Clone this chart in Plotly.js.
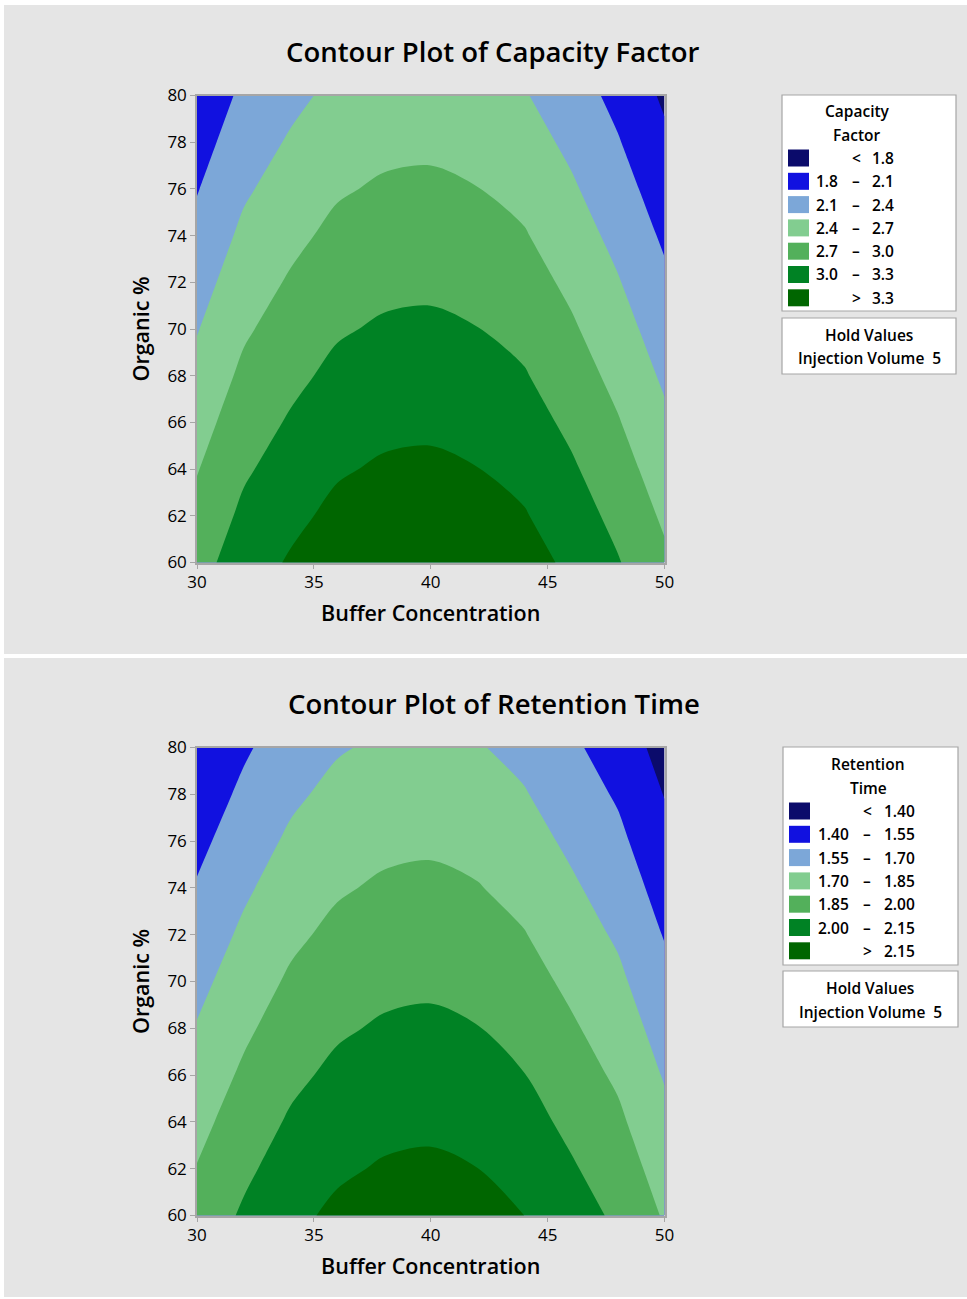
<!DOCTYPE html>
<html>
<head>
<meta charset="utf-8">
<script src="https://cdn.plot.ly/plotly-3.0.1.min.js"></script>
<style>
  html, body { margin: 0; padding: 0; background: #ffffff; }
  #chart { width: 967px; height: 1299px; }
</style>
</head>
<body>
<div id="chart"></div>
<script>
// ---------------- DATA ----------------
const bufferConcentration = [30, 32, 34, 36, 38, 40, 42, 44, 46, 48, 50];
const organicPercent = [60, 62, 64, 66, 68, 70, 72, 74, 76, 78, 80];

// rows = Organic % (60 -> 80), columns = Buffer Concentration (30 -> 50)
const capacityFactor = [
  [2.885, 3.160, 3.330, 3.470, 3.535, 3.550, 3.505, 3.420, 3.240, 3.020, 2.755],
  [2.785, 3.060, 3.230, 3.370, 3.435, 3.450, 3.405, 3.320, 3.140, 2.920, 2.655],
  [2.685, 2.960, 3.130, 3.270, 3.335, 3.350, 3.305, 3.220, 3.040, 2.820, 2.555],
  [2.585, 2.860, 3.030, 3.170, 3.235, 3.250, 3.205, 3.120, 2.940, 2.720, 2.455],
  [2.485, 2.760, 2.930, 3.070, 3.135, 3.150, 3.105, 3.020, 2.840, 2.620, 2.355],
  [2.385, 2.660, 2.830, 2.970, 3.035, 3.050, 3.005, 2.920, 2.740, 2.520, 2.255],
  [2.285, 2.560, 2.730, 2.870, 2.935, 2.950, 2.905, 2.820, 2.640, 2.420, 2.155],
  [2.185, 2.460, 2.630, 2.770, 2.835, 2.850, 2.805, 2.720, 2.540, 2.320, 2.055],
  [2.085, 2.360, 2.530, 2.670, 2.735, 2.750, 2.705, 2.620, 2.440, 2.220, 1.955],
  [1.985, 2.260, 2.430, 2.570, 2.635, 2.650, 2.605, 2.520, 2.340, 2.120, 1.855],
  [1.885, 2.160, 2.330, 2.470, 2.535, 2.550, 2.505, 2.420, 2.240, 2.020, 1.755]
];

const retentionTime = [
  [1.905, 2.020, 2.115, 2.178, 2.212, 2.222, 2.200, 2.150, 2.065, 1.975, 1.836],
  [1.856, 1.971, 2.066, 2.129, 2.163, 2.173, 2.151, 2.101, 2.016, 1.926, 1.787],
  [1.807, 1.922, 2.017, 2.080, 2.114, 2.124, 2.102, 2.052, 1.967, 1.877, 1.738],
  [1.758, 1.873, 1.968, 2.031, 2.065, 2.075, 2.053, 2.003, 1.918, 1.828, 1.689],
  [1.709, 1.824, 1.919, 1.982, 2.016, 2.026, 2.004, 1.954, 1.869, 1.779, 1.640],
  [1.660, 1.775, 1.870, 1.933, 1.967, 1.977, 1.955, 1.905, 1.820, 1.730, 1.591],
  [1.611, 1.726, 1.821, 1.884, 1.918, 1.928, 1.906, 1.856, 1.771, 1.681, 1.542],
  [1.562, 1.677, 1.772, 1.835, 1.869, 1.879, 1.857, 1.807, 1.722, 1.632, 1.493],
  [1.513, 1.628, 1.723, 1.786, 1.820, 1.830, 1.808, 1.758, 1.673, 1.583, 1.444],
  [1.464, 1.579, 1.674, 1.737, 1.771, 1.781, 1.759, 1.709, 1.624, 1.534, 1.395],
  [1.415, 1.530, 1.625, 1.688, 1.722, 1.732, 1.710, 1.660, 1.575, 1.485, 1.346]
];

const cfLevels = [1.8, 2.1, 2.4, 2.7, 3.0, 3.3];
const cfLevelLabels = ['1.8', '2.1', '2.4', '2.7', '3.0', '3.3'];
const rtLevels = [1.40, 1.55, 1.70, 1.85, 2.00, 2.15];
const rtLevelLabels = ['1.40', '1.55', '1.70', '1.85', '2.00', '2.15'];

const xTickVals = [30, 35, 40, 45, 50];
const yTickVals = [60, 62, 64, 66, 68, 70, 72, 74, 76, 78, 80];

const chartTitles = ['Contour Plot of Capacity Factor', 'Contour Plot of Retention Time'];
const legendTitles = [['Capacity', 'Factor'], ['Retention', 'Time']];
const xTitle = 'Buffer Concentration';
const yTitle = 'Organic %';
const holdLines = ['Hold Values', 'Injection Volume&#160;&#160;5'];

// ---------------- STYLE ----------------
const bandColors = ['#0b0b6b', '#1111e0', '#7ca7d8', '#82cd90', '#53b05b', '#008224', '#006600'];
const W = 967, H = 1299;
const FONT = 'Open Sans, Noto Sans, DejaVu Sans, sans-serif';
const px = v => v / W;
const py = v => 1 - v / H;

function stepScale(colors) {
  const n = colors.length, out = [];
  colors.forEach((c, i) => {
    const a = Math.max(0, (i - 0.5) / (n - 1));
    const b = Math.min(1, (i + 0.5) / (n - 1));
    out.push([a, c]); out.push([b, c]);
  });
  return out;
}

function contourTrace(z, levels, xa, ya) {
  const size = Math.round((levels[1] - levels[0]) * 1000) / 1000;
  const start = levels[0], end = levels[levels.length - 1];
  return {
    type: 'contour',
    x: bufferConcentration, y: organicPercent, z: z,
    xaxis: xa, yaxis: ya,
    autocontour: false,
    contours: { start: start, end: end, size: size, coloring: 'fill', showlines: false },
    zmin: start - size / 2, zmax: end + size / 2,
    colorscale: stepScale(bandColors),
    showscale: false,
    line: { width: 0, smoothing: 0.9 },
    hoverinfo: 'x+y+z'
  };
}

const data = [
  contourTrace(capacityFactor, cfLevels, 'x', 'y'),
  contourTrace(retentionTime, rtLevels, 'x2', 'y2')
];

const tickFont = { family: FONT, size: 17, color: '#000', weight: 500 };
const axTitleFont = { family: FONT, size: 21.5, color: '#000', weight: 600 };

function xAxis(domain, anchor) {
  return {
    domain: domain, anchor: anchor, range: [30, 50],
    tickvals: xTickVals, ticktext: xTickVals.map(String),
    ticks: 'outside', ticklen: 5, tickwidth: 1.2, tickcolor: '#a6a6a6',
    ticklabelstandoff: -2,
    showline: true, linecolor: '#a6a6a6', linewidth: 1.5, mirror: true,
    showgrid: false, zeroline: false,
    tickfont: tickFont,
    title: { text: xTitle, font: axTitleFont, standoff: 14 }
  };
}
function yAxis(domain, anchor) {
  return {
    domain: domain, anchor: anchor, range: [60, 80],
    tickvals: yTickVals, ticktext: yTickVals.map(String),
    ticks: 'outside', ticklen: 5, tickwidth: 1.2, tickcolor: '#a6a6a6',
    showline: true, linecolor: '#a6a6a6', linewidth: 1.5, mirror: true,
    showgrid: false, zeroline: false,
    tickfont: tickFont,
    title: { text: yTitle, font: axTitleFont, standoff: 12 }
  };
}

const shapes = [];
const annotations = [];

// panel backgrounds
[[5, 654], [658, 1297]].forEach(([t, b]) => {
  shapes.push({ type: 'rect', xref: 'paper', yref: 'paper', layer: 'below',
    x0: px(4), x1: px(967), y0: py(b), y1: py(t),
    fillcolor: '#e5e5e5', line: { width: 0 } });
});

function addPanelText(i, titleY, cfg) {
  annotations.push({ xref: 'paper', yref: 'paper', x: px(cfg.titleX), y: py(titleY),
    xanchor: 'center', yanchor: 'middle', showarrow: false, text: chartTitles[i],
    font: { family: FONT, size: 27.5, color: '#000', weight: 600 } });
}

function addLegend(i, levelsLabels, cfg) {
  shapes.push({ type: 'rect', xref: 'paper', yref: 'paper', layer: 'above',
    x0: px(cfg.boxL), x1: px(cfg.boxR), y0: py(cfg.boxB), y1: py(cfg.boxT),
    fillcolor: '#ffffff', line: { color: '#a6a6a6', width: 1.2 } });
  shapes.push({ type: 'rect', xref: 'paper', yref: 'paper', layer: 'above',
    x0: px(cfg.boxL), x1: px(cfg.boxR), y0: py(cfg.holdB), y1: py(cfg.holdT),
    fillcolor: '#ffffff', line: { color: '#a6a6a6', width: 1.2 } });
  const lf = { family: FONT, size: 15.5, color: '#000', weight: 600 };
  legendTitles[i].forEach((t, k) => {
    annotations.push({ xref: 'paper', yref: 'paper', x: px(cfg.titleCx), y: py(cfg.titleY0 + k * 24),
      xanchor: 'center', yanchor: 'middle', showarrow: false, text: t, font: lf });
  });
  const n = levelsLabels.length;
  for (let r = 0; r <= n; r++) {
    const yc = cfg.row0 + r * 23.3;
    shapes.push({ type: 'rect', xref: 'paper', yref: 'paper', layer: 'above',
      x0: px(cfg.swL), x1: px(cfg.swL + 21), y0: py(yc + 8.5), y1: py(yc - 8.5),
      fillcolor: bandColors[r], line: { width: 0 } });
    let left = '', sym = '', right = '';
    if (r === 0) { sym = '&lt;'; right = levelsLabels[0]; }
    else if (r === n) { sym = '&gt;'; right = levelsLabels[n - 1]; }
    else { left = levelsLabels[r - 1]; sym = '–'; right = levelsLabels[r]; }
    if (left) annotations.push({ xref: 'paper', yref: 'paper', x: px(cfg.leftR), y: py(yc),
      xanchor: 'right', yanchor: 'middle', showarrow: false, text: left, font: lf });
    annotations.push({ xref: 'paper', yref: 'paper', x: px(cfg.symC), y: py(yc),
      xanchor: 'center', yanchor: 'middle', showarrow: false, text: sym, font: lf });
    annotations.push({ xref: 'paper', yref: 'paper', x: px(cfg.rightR), y: py(yc),
      xanchor: 'right', yanchor: 'middle', showarrow: false, text: right, font: lf });
  }
  holdLines.forEach((t, k) => {
    annotations.push({ xref: 'paper', yref: 'paper', x: px(cfg.holdCx), y: py(cfg.holdY0 + k * 23.5),
      xanchor: 'center', yanchor: 'middle', showarrow: false, text: t, font: lf });
  });
}

addPanelText(0, 51, { titleX: 493 });
addPanelText(1, 703, { titleX: 494 });

addLegend(0, cfLevelLabels, {
  boxL: 782, boxR: 956, boxT: 95, boxB: 311, holdT: 318, holdB: 374,
  titleCx: 857, titleY0: 111, row0: 158, swL: 788, leftR: 840, symC: 856, rightR: 896,
  holdCx: 869, holdY0: 335
});
addLegend(1, rtLevelLabels, {
  boxL: 783, boxR: 958, boxT: 747, boxB: 965, holdT: 971, holdB: 1027,
  titleCx: 868, titleY0: 764, row0: 811, swL: 789, leftR: 851, symC: 867, rightR: 917,
  holdCx: 870, holdY0: 988
});

const xDom = [px(197), px(664.5)];
const layout = {
  width: W, height: H,
  margin: { l: 0, r: 0, t: 0, b: 0, pad: 0 },
  paper_bgcolor: '#ffffff',
  plot_bgcolor: 'rgba(0,0,0,0)',
  showlegend: false,
  font: { family: FONT, color: '#000' },
  xaxis: xAxis(xDom, 'y'),
  yaxis: yAxis([py(562.5), py(95.5)], 'x'),
  xaxis2: xAxis(xDom, 'y2'),
  yaxis2: yAxis([py(1215.5), py(747.5)], 'x2'),
  shapes: shapes,
  annotations: annotations
};

Plotly.newPlot('chart', data, layout, { displayModeBar: false, staticPlot: false });
</script>
</body>
</html>
